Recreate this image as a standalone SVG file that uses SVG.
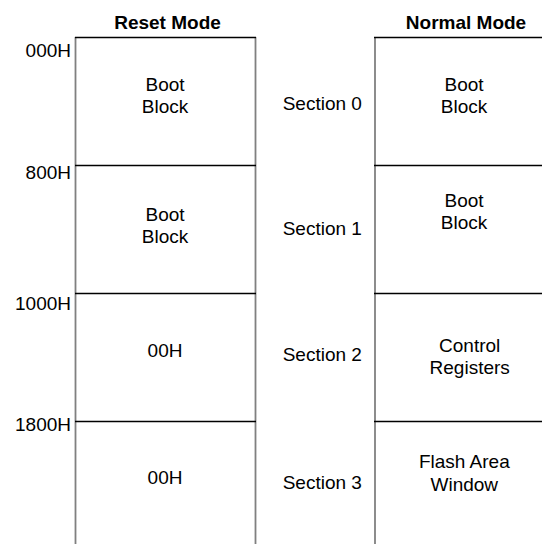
<svg xmlns="http://www.w3.org/2000/svg" width="542" height="544" viewBox="0 0 542 544">
<style>
text{font-family:"Liberation Sans",Arial,sans-serif;font-size:19px;fill:#000;text-anchor:middle}
.h{font-weight:bold}
.addr{text-anchor:end}
.hl{stroke:#000;stroke-width:1.5;fill:none}
.vl{stroke:#808080;stroke-width:1.8;fill:none}
</style>
<rect width="542" height="544" fill="#fff"/>
<g id="headers">
<text class="h" x="167.5" y="28.5">Reset Mode</text>
<text class="h" x="466" y="28.5">Normal Mode</text>
</g>
<g id="grid">
<line class="vl" x1="75.5" y1="37" x2="75.5" y2="544"/>
<line class="vl" x1="255.5" y1="37" x2="255.5" y2="544"/>
<line class="vl" x1="375" y1="37" x2="375" y2="544"/>
<line class="hl" x1="75" y1="37.5" x2="256" y2="37.5"/>
<line class="hl" x1="75" y1="165.5" x2="256" y2="165.5"/>
<line class="hl" x1="75" y1="293.5" x2="256" y2="293.5"/>
<line class="hl" x1="75" y1="421.5" x2="256" y2="421.5"/>
<line class="hl" x1="374" y1="37.5" x2="542" y2="37.5"/>
<line class="hl" x1="374" y1="165.5" x2="542" y2="165.5"/>
<line class="hl" x1="374" y1="293.5" x2="542" y2="293.5"/>
<line class="hl" x1="374" y1="421.5" x2="542" y2="421.5"/>
</g>
<g id="addresses">
<text class="addr" x="71" y="57">000H</text>
<text class="addr" x="71" y="179.3">800H</text>
<text class="addr" x="71" y="309.5">1000H</text>
<text class="addr" x="71" y="431">1800H</text>
</g>
<g id="reset-s0"><text x="165" y="90.7">Boot</text><text x="165" y="112.7">Block</text></g>
<g id="reset-s1"><text x="165" y="220.7">Boot</text><text x="165" y="242.7">Block</text></g>
<g id="reset-s2"><text x="165" y="356.7">00H</text></g>
<g id="reset-s3"><text x="165" y="484">00H</text></g>
<g id="sections">
<text x="322.3" y="110">Section 0</text>
<text x="322.3" y="235">Section 1</text>
<text x="322.3" y="361">Section 2</text>
<text x="322.3" y="489.3">Section 3</text>
</g>
<g id="normal-s0"><text x="464" y="90.7">Boot</text><text x="464" y="112.7">Block</text></g>
<g id="normal-s1"><text x="464" y="207.3">Boot</text><text x="464" y="229.3">Block</text></g>
<g id="normal-s2"><text x="469.7" y="351.7">Control</text><text x="469.7" y="373.7">Registers</text></g>
<g id="normal-s3"><text x="464.3" y="468.3">Flash Area</text><text x="464.3" y="491">Window</text></g>
<g id="connectors"/>
</svg>
